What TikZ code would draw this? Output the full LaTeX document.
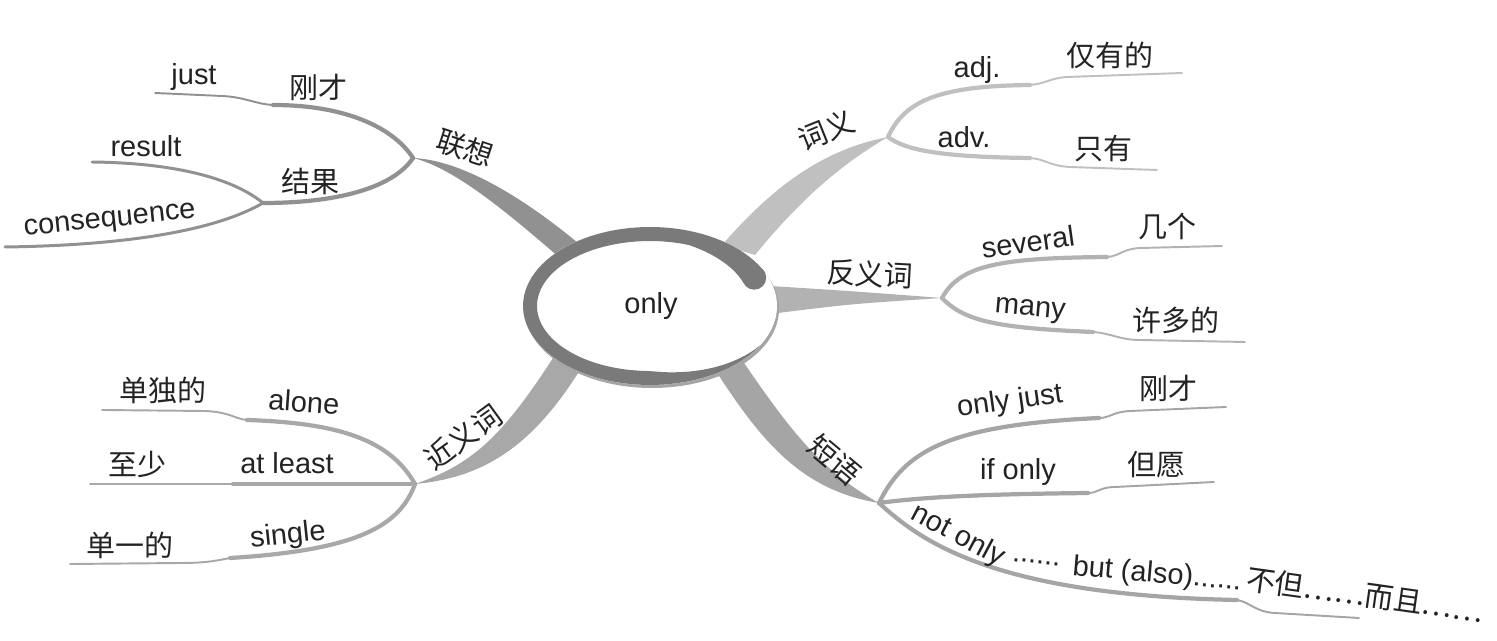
\documentclass[tikz,border=0pt]{standalone}
\usepackage{fontspec}
\setmainfont{Liberation Sans}
\newfontfamily\cjk{Noto Sans CJK SC}
\usepackage{tikz}
\usetikzlibrary{positioning}
\definecolor{inkgray}{RGB}{35,35,35}
\definecolor{ringgray}{RGB}{122,122,122}
\definecolor{shadowgray}{RGB}{165,165,165}
\definecolor{lxgray}{RGB}{145,145,145}
\definecolor{cygray}{RGB}{192,192,192}
\definecolor{fygray}{RGB}{178,178,178}
\definecolor{jygray}{RGB}{168,168,168}
\definecolor{dygray}{RGB}{165,165,165}
\tikzset{
  word/.style={font=\fontsize{16.5}{20}\selectfont, text=inkgray, inner sep=0pt},
  cnword/.style={font=\fontsize{16.5}{20}\selectfont\cjk, text=inkgray, inner sep=0pt},
  twig/.style={draw=#1, line width=2.4pt, line cap=round},
  midtwig/.style={draw=#1, line width=1.7pt, line cap=round},
  tip/.style={draw=#1, line width=1.1pt, line cap=round},
}

\begin{document}
\begin{tikzpicture}[x=0.02cm, y=-0.02cm,
    declare function={bw(\t)=(14+10*max(0,(70-\t)/45))*min(1,(330-\t)/60);}]

  \useasboundingbox (0,0) rectangle (1497,641);

  %% ── Hubs, kinks and ends ──
  \coordinate (lx)  at (413,158);
  \coordinate (lxA) at (273,105);  \coordinate (lxAend) at (155,93);
  \coordinate (lxB) at (263,203);
  \coordinate (lxB1) at (92,162);  \coordinate (lxB2) at (5,247);
  \coordinate (cy)  at (888,137);
  \coordinate (cyA) at (1030,85);  \coordinate (cyAend) at (1182,73);
  \coordinate (cyB) at (1030,158); \coordinate (cyBend) at (1157,170);
  \coordinate (fy)  at (942,298);
  \coordinate (fyA) at (1107,257); \coordinate (fyAend) at (1222,246);
  \coordinate (fyB) at (1093,332); \coordinate (fyBend) at (1245,342);
  \coordinate (jy)  at (415,484);
  \coordinate (jyA) at (247,420);  \coordinate (jyAend) at (102,410);
  \coordinate (jyB) at (233,484);  \coordinate (jyBend) at (90,484);
  \coordinate (jyC) at (230,558);  \coordinate (jyCend) at (70,564);
  \coordinate (dy)  at (879,503);
  \coordinate (dyA) at (1099,418); \coordinate (dyAend) at (1226,407);
  \coordinate (dyB) at (1088,493); \coordinate (dyBend) at (1214,482);
  \coordinate (dyC) at (1237,600); \coordinate (dyCend) at (1359,618);

  %% ── Trunk roots (under the ring) ──
  \coordinate (lx0) at (578,243); \coordinate (lx1) at (560,258);
  \coordinate (cy0) at (722,245); \coordinate (cy1) at (755,255);
  \coordinate (fy0) at (770,286); \coordinate (fy1) at (770,314);
  \coordinate (jy0) at (553,358); \coordinate (jy1) at (580,370);
  \coordinate (dy0) at (712,365); \coordinate (dy1) at (742,360);

  %% ── Trunks ──
  \fill[lxgray] (lx) .. controls (460,160) and (520,195) .. (lx0)
    -- (lx1) .. controls (510,215) and (455,168) .. (lx) -- cycle;
  \fill[cygray] (cy0) .. controls (770,190) and (820,150) .. (cy)
    .. controls (840,165) and (800,200) .. (cy1) -- cycle;
  \fill[fygray] (fy0) .. controls (850,291) .. (fy)
    .. controls (850,304) .. (fy1) -- cycle;
  \fill[jygray] (jy) .. controls (470,465) and (500,440) .. (jy0)
    -- (jy1) .. controls (530,450) and (480,478) .. (jy) -- cycle;
  \fill[dygray] (dy0) .. controls (760,440) and (800,490) .. (dy)
    .. controls (820,470) and (790,430) .. (dy1) -- cycle;

  %% ── Twigs: 联想 ──
  \draw[twig=lxgray] (lx) .. controls (395,130) and (350,105) .. (lxA);
  \draw[tip=lxgray] (lxA) .. controls (255,104) and (245,97) .. (222,96) -- (lxAend);
  \draw[twig=lxgray] (lx) .. controls (395,185) and (345,203) .. (lxB);
  \draw[midtwig=lxgray] (lxB) .. controls (235,180) and (180,163) .. (lxB1);
  \draw[midtwig=lxgray] (lxB) .. controls (225,225) and (150,245) .. (lxB2);

  %% ── Twigs: 词义 ──
  \draw[twig=cygray] (cy) .. controls (905,100) and (940,86) .. (cyA);
  \draw[tip=cygray] (cyA) .. controls (1045,84) and (1050,78) .. (1067,77) -- (cyAend);
  \draw[twig=cygray] (cy) .. controls (905,150) and (940,157) .. (cyB);
  \draw[tip=cygray] (cyB) .. controls (1045,159) and (1050,166) .. (1070,167) -- (cyBend);

  %% ── Twigs: 反义词 ──
  \draw[twig=fygray] (fy) .. controls (960,265) and (1000,258) .. (fyA);
  \draw[tip=fygray] (fyA) .. controls (1120,256) and (1122,249) .. (1140,248) -- (fyAend);
  \draw[twig=fygray] (fy) .. controls (965,322) and (1000,328) .. (fyB);
  \draw[tip=fygray] (fyB) .. controls (1110,333) and (1120,340) .. (1140,340) -- (fyBend);

  %% ── Twigs: 近义词 ──
  \draw[twig=jygray] (jy) .. controls (390,440) and (340,423) .. (jyA);
  \draw[tip=jygray] (jyA) .. controls (235,419) and (230,412) .. (205,411) -- (jyAend);
  \draw[twig=jygray] (jy) -- (jyB);
  \draw[tip=jygray] (jyB) -- (jyBend);
  \draw[twig=jygray] (jy) .. controls (400,525) and (360,550) .. (jyC);
  \draw[tip=jygray] (jyC) .. controls (215,561) and (205,563) .. (180,563) -- (jyCend);

  %% ── Twigs: 短语 ──
  \draw[twig=dygray] (dy) .. controls (905,450) and (950,425) .. (dyA);
  \draw[tip=dygray] (dyA) .. controls (1110,418) and (1112,412) .. (1130,411) -- (dyAend);
  \draw[twig=dygray] (dy) .. controls (930,496) and (1000,494) .. (dyB);
  \draw[tip=dygray] (dyB) .. controls (1098,493) and (1100,487) .. (1115,487) -- (dyBend);
  \draw[twig=dygray] (dy) .. controls (920,540) and (990,595) .. (dyC);
  \draw[tip=dygray] (dyC) .. controls (1250,602) and (1255,612) .. (1275,613) -- (dyCend);

  %% ── Centre ring ──
  \fill[shadowgray] (652,309) ellipse [x radius=127, y radius=79];
  \fill[white] (650,306) ellipse [x radius=127, y radius=79];
  \fill[ringgray]
    plot[domain=25:330, samples=90] ({650+127*cos(\x)},{306-79*sin(\x)})
    -- plot[domain=330:25, samples=90]
       ({650+(127-bw(\x))*cos(\x)},{306-(79-bw(\x))*sin(\x)}) -- cycle;
  \fill[ringgray] ({650+115*cos(25)},{306-67*sin(25)}) circle [radius=12];
  \node[word] (only) at (651,306) {only};

  %% ── Labels: 联想 ──
  \node[cnword, rotate=-18] (lxlab) at (465,148) {联想};
  \node[cnword] (lxAcn) at (318,87) {刚才};
  \node[word] (lxAen) at (194,77) {just};
  \node[cnword] (lxBcn) at (310,181) {结果};
  \node[word] (lxB1en) at (146,146) {result};
  \node[word, rotate=6] (lxB2en) at (110,222) {consequence};

  %% ── Labels: 词义 ──
  \node[cnword, rotate=22] (cylab) at (826,130) {词义};
  \node[word] (cyAen) at (977,70) {adj.};
  \node[cnword] (cyAcn) at (1110,55) {仅有的};
  \node[word] (cyBen) at (964,137) {adv.};
  \node[cnword] (cyBcn) at (1103,149) {只有};

  %% ── Labels: 反义词 ──
  \node[cnword, rotate=-3] (fylab) at (870,274) {反义词};
  \node[word, rotate=8] (fyAen) at (1028,242) {several};
  \node[cnword] (fyAcn) at (1167,227) {几个};
  \node[word, rotate=-5] (fyBen) at (1030,311) {many};
  \node[cnword] (fyBcn) at (1176,320) {许多的};

  %% ── Labels: 近义词 ──
  \node[cnword, rotate=36] (jylab) at (463,437) {近义词};
  \node[word, rotate=-4] (jyAen) at (304,402) {alone};
  \node[cnword] (jyAcn) at (163,390) {单独的};
  \node[word] (jyBen) at (287,463) {at least};
  \node[cnword] (jyBcn) at (137,464) {至少};
  \node[word, rotate=6] (jyCen) at (288,536) {single};
  \node[cnword] (jyCcn) at (130,545) {单一的};

  %% ── Labels: 短语 ──
  \node[cnword, rotate=-40] (dylab) at (835,460) {短语};
  \node[word, rotate=8] (dyAen) at (1010,402) {only just};
  \node[cnword] (dyAcn) at (1168,388) {刚才};
  \node[word] (dyBen) at (1018,472) {if only};
  \node[cnword] (dyBcn) at (1156,465) {但愿};
  \node[word, rotate=-28] (dyCen) at (958,536) {not only};
  \node[word, rotate=-6] (dyCdots) at (1036,562) {......};
  \node[word, rotate=-5] (dyCen2) at (1157,575) {but (also)......};
  \node[cnword, rotate=-8] (dyCcn) at (1365,595) {不但……而且……};

\end{tikzpicture}
\end{document}
